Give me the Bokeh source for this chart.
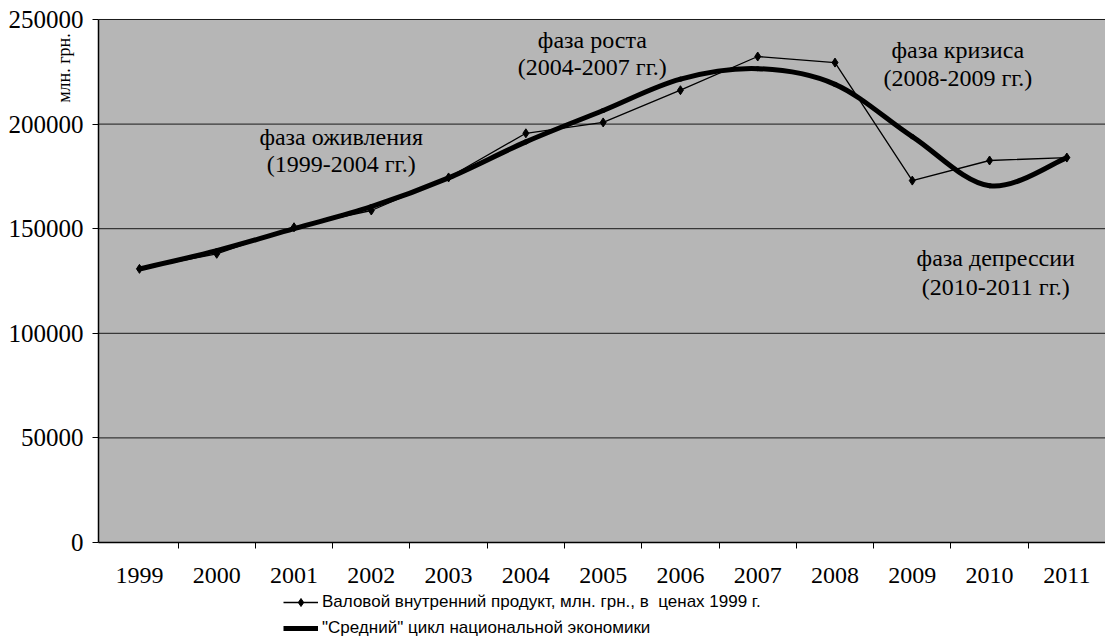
import math
from bokeh.plotting import figure
from bokeh.layouts import column
from bokeh.models import (Label, Legend, LegendItem, FixedTicker, PrintfTickFormatter,
                          Range1d, ColumnDataSource, BoxAnnotation)
from bokeh.embed import file_html
from bokeh.resources import INLINE

# --- data -------------------------------------------------------------
years = [1999, 2000, 2001, 2002, 2003, 2004, 2005, 2006, 2007, 2008, 2009, 2010, 2011]
gdp = [130800, 138000, 150700, 158700, 174500, 195600, 200800, 216200, 232300,
       229400, 173000, 182600, 184000]
cycle = [130800, 139500, 150000, 160500, 174300, 191500, 206500, 221500, 226500,
         219000, 194000, 170500, 184000]
y_ticks = [0, 50000, 100000, 150000, 200000, 250000]

gdp_label = "Валовой внутренний продукт, млн. грн., в  ценах 1999 г."
cycle_label = '"Средний" цикл национальной экономики'
unit_label = "млн. грн."

phase_texts = [("фаза оживления", "(1999-2004 гг.)"),
               ("фаза роста", "(2004-2007 гг.)"),
               ("фаза кризиса", "(2008-2009 гг.)"),
               ("фаза депрессии", "(2010-2011 гг.)")]

SERIF = "Liberation Serif"
SANS = "Liberation Sans"

# extent of the shaded plot area (category centres at whole years)
X_LO, X_HI = 1998.47, 2011.5
Y_LO, Y_HI = 0, 250000

# the frame covers the whole canvas; axes are pinned to the plot-area edges
p = figure(width=1105, height=590, output_backend="svg", toolbar_location=None,
           x_range=Range1d(1997.202, X_HI), y_range=Range1d(-22945, 259082),
           min_border_left=0, min_border_right=0, min_border_top=0,
           min_border_bottom=0)
p.background_fill_color = "white"
p.border_fill_color = "white"
p.outline_line_color = None
p.grid.grid_line_color = None

p.add_layout(BoxAnnotation(left=X_LO, right=X_HI, bottom=Y_LO, top=Y_HI,
                           fill_color="#b6b6b6", fill_alpha=1, line_color=None,
                           level="underlay"))

# category axis: labels on the years, tick marks between them
p.xaxis.fixed_location = Y_LO
p.xaxis.bounds = (X_LO, X_HI)
p.xaxis.ticker = FixedTicker(ticks=years, minor_ticks=[y + 0.5 for y in years[:-1]])
p.xaxis.major_tick_out = 0
p.xaxis.major_tick_in = 0
p.xaxis.minor_tick_out = 6
p.xaxis.minor_tick_in = 0
p.xaxis.major_label_standoff = 20
p.xaxis.major_label_text_font = SERIF
p.xaxis.major_label_text_font_size = "24px"
p.xaxis.major_label_text_color = "black"
p.xaxis.axis_line_color = "black"
p.xaxis.axis_line_width = 1.5

# value axis on the left edge of the shaded area
p.yaxis.fixed_location = X_LO
p.yaxis.bounds = (Y_LO, Y_HI)
p.yaxis.ticker = FixedTicker(ticks=y_ticks, minor_ticks=[])
p.yaxis.formatter = PrintfTickFormatter(format="%d")
p.yaxis.major_tick_out = 6
p.yaxis.major_tick_in = 0
p.yaxis.minor_tick_out = 0
p.yaxis.major_label_standoff = 9
p.yaxis.major_label_text_font = SERIF
p.yaxis.major_label_text_font_size = "25px"
p.yaxis.major_label_text_color = "black"
p.yaxis.axis_line_color = "black"
p.yaxis.axis_line_width = 1.5

# horizontal grid lines across the shaded area only
grid_src = ColumnDataSource(dict(y=y_ticks[1:]))
p.segment(x0=X_LO, x1=X_HI, y0="y", y1="y", source=grid_src,
          line_color="#1a1a1a", line_width=1)

# smooth cycle curve: cubic Bezier segments through the yearly values
def smooth_segments(xs, ys):
    seg = {k: [] for k in ("x0", "y0", "x1", "y1", "cx0", "cy0", "cx1", "cy1")}
    n = len(xs)
    for i in range(n - 1):
        xa, ya = xs[max(i - 1, 0)], ys[max(i - 1, 0)]
        xb, yb = xs[i], ys[i]
        xc, yc = xs[i + 1], ys[i + 1]
        xd, yd = xs[min(i + 2, n - 1)], ys[min(i + 2, n - 1)]
        seg["x0"].append(xb); seg["y0"].append(yb)
        seg["x1"].append(xc); seg["y1"].append(yc)
        seg["cx0"].append(xb + (xc - xa) / 6); seg["cy0"].append(yb + (yc - ya) / 6)
        seg["cx1"].append(xc - (xd - xb) / 6); seg["cy1"].append(yc - (yd - yb) / 6)
    return seg

curve_src = ColumnDataSource(smooth_segments(years, cycle))
p.bezier(x0="x0", y0="y0", x1="x1", y1="y1", cx0="cx0", cy0="cy0", cx1="cx1",
         cy1="cy1", source=curve_src, line_color="black", line_width=5,
         line_cap="round")

gdp_src = ColumnDataSource(dict(year=years, value=gdp))
p.line("year", "value", source=gdp_src, line_color="black", line_width=1.3)
p.scatter("year", "value", source=gdp_src, marker="diamond", size=9,
          fill_color="black", line_color="black")

# phase annotations
phase_pos = [(2001.61, 194000, 180700),
             (2004.86, 240000, 227100),
             (2009.59, 235200, 221800),
             (2010.08, 136200, 121900)]
for (t1, t2), (px, py1, py2) in zip(phase_texts, phase_pos):
    for txt, py in ((t1, py1), (t2, py2)):
        p.add_layout(Label(x=px, y=py, text=txt, text_align="center",
                           text_baseline="middle", text_font=SERIF,
                           text_font_size="24px", text_color="black"))

# unit title beside the top of the value axis
p.add_layout(Label(x=1998.03, y=226800, text=unit_label, angle=math.pi / 2,
                   text_align="center", text_baseline="middle", text_font=SERIF,
                   text_font_size="18px", text_color="black"))

# legend strip under the chart; its renderers sit outside the visible range
lg = figure(width=1105, height=53, output_backend="svg", toolbar_location=None,
            x_range=Range1d(0, 1), y_range=Range1d(0, 1),
            x_axis_location=None, y_axis_location=None,
            min_border_left=0, min_border_right=0, min_border_top=0,
            min_border_bottom=0)
lg.grid.grid_line_color = None
lg.outline_line_color = None
lg.background_fill_color = "white"
lg_line = lg.line(x=[5, 6], y=[5, 6], line_color="black", line_width=1.3)
lg_pts = lg.scatter(x=[5, 6], y=[5, 6], marker="diamond", size=9,
                    fill_color="black", line_color="black")
lg_curve = lg.line(x=[5, 6], y=[5, 6], line_color="black", line_width=5)

legend = Legend(items=[LegendItem(label=gdp_label, renderers=[lg_line, lg_pts]),
                       LegendItem(label=cycle_label, renderers=[lg_curve])],
                location=(283, 5), orientation="vertical",
                glyph_width=35, glyph_height=20, label_height=20, label_standoff=4,
                spacing=6, padding=0, margin=0,
                label_text_font=SANS, label_text_font_size="17px",
                label_text_color="black",
                background_fill_alpha=0, border_line_color=None)
lg.add_layout(legend, "center")

page = column(p, lg, spacing=0)
open("out.html", "w").write(file_html(page, INLINE))
